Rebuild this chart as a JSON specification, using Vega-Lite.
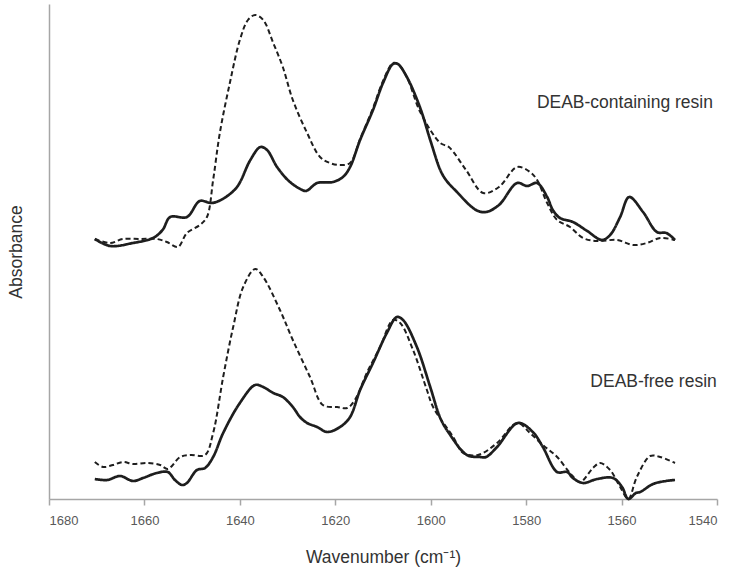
{
  "$schema": "https://vega.github.io/schema/vega-lite/v6.json",
  "width": 668,
  "height": 495,
  "autosize": {"type": "none"},
  "padding": {"left": 49, "top": 4, "right": 29, "bottom": 80},
  "background": "white",
  "config": {"view": {"stroke": null}, "font": "Liberation Sans"},
  "datasets": {
    "spectra": [
      {"sample": "DEAB-containing resin", "state": "Cured", "wavenumber": 1670.4, "absorbance": 0.260},
      {"sample": "DEAB-containing resin", "state": "Cured", "wavenumber": 1667.2, "absorbance": 0.253},
      {"sample": "DEAB-containing resin", "state": "Cured", "wavenumber": 1662.4, "absorbance": 0.256},
      {"sample": "DEAB-containing resin", "state": "Cured", "wavenumber": 1658.2, "absorbance": 0.261},
      {"sample": "DEAB-containing resin", "state": "Cured", "wavenumber": 1656.2, "absorbance": 0.269},
      {"sample": "DEAB-containing resin", "state": "Cured", "wavenumber": 1654.6, "absorbance": 0.282},
      {"sample": "DEAB-containing resin", "state": "Cured", "wavenumber": 1651.1, "absorbance": 0.282},
      {"sample": "DEAB-containing resin", "state": "Cured", "wavenumber": 1648.4, "absorbance": 0.298},
      {"sample": "DEAB-containing resin", "state": "Cured", "wavenumber": 1645.9, "absorbance": 0.296},
      {"sample": "DEAB-containing resin", "state": "Cured", "wavenumber": 1643.6, "absorbance": 0.300},
      {"sample": "DEAB-containing resin", "state": "Cured", "wavenumber": 1640.6, "absorbance": 0.312},
      {"sample": "DEAB-containing resin", "state": "Cured", "wavenumber": 1637.8, "absorbance": 0.339},
      {"sample": "DEAB-containing resin", "state": "Cured", "wavenumber": 1635.7, "absorbance": 0.352},
      {"sample": "DEAB-containing resin", "state": "Cured", "wavenumber": 1634.3, "absorbance": 0.349},
      {"sample": "DEAB-containing resin", "state": "Cured", "wavenumber": 1632.2, "absorbance": 0.332},
      {"sample": "DEAB-containing resin", "state": "Cured", "wavenumber": 1629.5, "absorbance": 0.317},
      {"sample": "DEAB-containing resin", "state": "Cured", "wavenumber": 1626.3, "absorbance": 0.308},
      {"sample": "DEAB-containing resin", "state": "Cured", "wavenumber": 1625.7, "absorbance": 0.309},
      {"sample": "DEAB-containing resin", "state": "Cured", "wavenumber": 1623.8, "absorbance": 0.316},
      {"sample": "DEAB-containing resin", "state": "Cured", "wavenumber": 1620.5, "absorbance": 0.317},
      {"sample": "DEAB-containing resin", "state": "Cured", "wavenumber": 1618.4, "absorbance": 0.322},
      {"sample": "DEAB-containing resin", "state": "Cured", "wavenumber": 1616.9, "absorbance": 0.332},
      {"sample": "DEAB-containing resin", "state": "Cured", "wavenumber": 1614.8, "absorbance": 0.359},
      {"sample": "DEAB-containing resin", "state": "Cured", "wavenumber": 1612.1, "absorbance": 0.389},
      {"sample": "DEAB-containing resin", "state": "Cured", "wavenumber": 1610.0, "absorbance": 0.416},
      {"sample": "DEAB-containing resin", "state": "Cured", "wavenumber": 1607.9, "absorbance": 0.435},
      {"sample": "DEAB-containing resin", "state": "Cured", "wavenumber": 1606.9, "absorbance": 0.435},
      {"sample": "DEAB-containing resin", "state": "Cured", "wavenumber": 1605.0, "absorbance": 0.422},
      {"sample": "DEAB-containing resin", "state": "Cured", "wavenumber": 1602.2, "absorbance": 0.391},
      {"sample": "DEAB-containing resin", "state": "Cured", "wavenumber": 1600.1, "absorbance": 0.359},
      {"sample": "DEAB-containing resin", "state": "Cured", "wavenumber": 1598.0, "absorbance": 0.329},
      {"sample": "DEAB-containing resin", "state": "Cured", "wavenumber": 1596.8, "absorbance": 0.319},
      {"sample": "DEAB-containing resin", "state": "Cured", "wavenumber": 1594.7, "absorbance": 0.308},
      {"sample": "DEAB-containing resin", "state": "Cured", "wavenumber": 1590.5, "absorbance": 0.289},
      {"sample": "DEAB-containing resin", "state": "Cured", "wavenumber": 1588.4, "absorbance": 0.287},
      {"sample": "DEAB-containing resin", "state": "Cured", "wavenumber": 1585.7, "absorbance": 0.294},
      {"sample": "DEAB-containing resin", "state": "Cured", "wavenumber": 1581.9, "absorbance": 0.316},
      {"sample": "DEAB-containing resin", "state": "Cured", "wavenumber": 1579.8, "absorbance": 0.313},
      {"sample": "DEAB-containing resin", "state": "Cured", "wavenumber": 1577.7, "absorbance": 0.316},
      {"sample": "DEAB-containing resin", "state": "Cured", "wavenumber": 1575.6, "absorbance": 0.302},
      {"sample": "DEAB-containing resin", "state": "Cured", "wavenumber": 1574.4, "absorbance": 0.289},
      {"sample": "DEAB-containing resin", "state": "Cured", "wavenumber": 1572.9, "absorbance": 0.281},
      {"sample": "DEAB-containing resin", "state": "Cured", "wavenumber": 1570.2, "absorbance": 0.277},
      {"sample": "DEAB-containing resin", "state": "Cured", "wavenumber": 1567.2, "absorbance": 0.268},
      {"sample": "DEAB-containing resin", "state": "Cured", "wavenumber": 1564.1, "absorbance": 0.259},
      {"sample": "DEAB-containing resin", "state": "Cured", "wavenumber": 1562.4, "absorbance": 0.264},
      {"sample": "DEAB-containing resin", "state": "Cured", "wavenumber": 1560.3, "absorbance": 0.282},
      {"sample": "DEAB-containing resin", "state": "Cured", "wavenumber": 1558.4, "absorbance": 0.302},
      {"sample": "DEAB-containing resin", "state": "Cured", "wavenumber": 1555.5, "absorbance": 0.287},
      {"sample": "DEAB-containing resin", "state": "Cured", "wavenumber": 1552.6, "absorbance": 0.267},
      {"sample": "DEAB-containing resin", "state": "Cured", "wavenumber": 1550.6, "absorbance": 0.266},
      {"sample": "DEAB-containing resin", "state": "Cured", "wavenumber": 1548.8, "absorbance": 0.259},

      {"sample": "DEAB-containing resin", "state": "Uncured", "wavenumber": 1670.4, "absorbance": 0.260},
      {"sample": "DEAB-containing resin", "state": "Uncured", "wavenumber": 1667.2, "absorbance": 0.256},
      {"sample": "DEAB-containing resin", "state": "Uncured", "wavenumber": 1664.5, "absorbance": 0.260},
      {"sample": "DEAB-containing resin", "state": "Uncured", "wavenumber": 1660.9, "absorbance": 0.260},
      {"sample": "DEAB-containing resin", "state": "Uncured", "wavenumber": 1657.4, "absorbance": 0.260},
      {"sample": "DEAB-containing resin", "state": "Uncured", "wavenumber": 1655.3, "absorbance": 0.257},
      {"sample": "DEAB-containing resin", "state": "Uncured", "wavenumber": 1653.0, "absorbance": 0.252},
      {"sample": "DEAB-containing resin", "state": "Uncured", "wavenumber": 1651.1, "absorbance": 0.266},
      {"sample": "DEAB-containing resin", "state": "Uncured", "wavenumber": 1648.4, "absorbance": 0.274},
      {"sample": "DEAB-containing resin", "state": "Uncured", "wavenumber": 1646.9, "absorbance": 0.282},
      {"sample": "DEAB-containing resin", "state": "Uncured", "wavenumber": 1645.6, "absorbance": 0.319},
      {"sample": "DEAB-containing resin", "state": "Uncured", "wavenumber": 1644.2, "absorbance": 0.366},
      {"sample": "DEAB-containing resin", "state": "Uncured", "wavenumber": 1642.1, "absorbance": 0.416},
      {"sample": "DEAB-containing resin", "state": "Uncured", "wavenumber": 1640.0, "absorbance": 0.459},
      {"sample": "DEAB-containing resin", "state": "Uncured", "wavenumber": 1638.3, "absorbance": 0.479},
      {"sample": "DEAB-containing resin", "state": "Uncured", "wavenumber": 1636.8, "absorbance": 0.484},
      {"sample": "DEAB-containing resin", "state": "Uncured", "wavenumber": 1635.1, "absorbance": 0.479},
      {"sample": "DEAB-containing resin", "state": "Uncured", "wavenumber": 1633.0, "absorbance": 0.456},
      {"sample": "DEAB-containing resin", "state": "Uncured", "wavenumber": 1631.0, "absorbance": 0.432},
      {"sample": "DEAB-containing resin", "state": "Uncured", "wavenumber": 1628.9, "absorbance": 0.399},
      {"sample": "DEAB-containing resin", "state": "Uncured", "wavenumber": 1625.9, "absorbance": 0.366},
      {"sample": "DEAB-containing resin", "state": "Uncured", "wavenumber": 1623.2, "absorbance": 0.342},
      {"sample": "DEAB-containing resin", "state": "Uncured", "wavenumber": 1621.1, "absorbance": 0.336},
      {"sample": "DEAB-containing resin", "state": "Uncured", "wavenumber": 1619.0, "absorbance": 0.334},
      {"sample": "DEAB-containing resin", "state": "Uncured", "wavenumber": 1616.9, "absorbance": 0.336},
      {"sample": "DEAB-containing resin", "state": "Uncured", "wavenumber": 1614.8, "absorbance": 0.360},
      {"sample": "DEAB-containing resin", "state": "Uncured", "wavenumber": 1612.1, "absorbance": 0.391},
      {"sample": "DEAB-containing resin", "state": "Uncured", "wavenumber": 1610.0, "absorbance": 0.418},
      {"sample": "DEAB-containing resin", "state": "Uncured", "wavenumber": 1607.9, "absorbance": 0.436},
      {"sample": "DEAB-containing resin", "state": "Uncured", "wavenumber": 1606.9, "absorbance": 0.435},
      {"sample": "DEAB-containing resin", "state": "Uncured", "wavenumber": 1605.0, "absorbance": 0.422},
      {"sample": "DEAB-containing resin", "state": "Uncured", "wavenumber": 1602.2, "absorbance": 0.387},
      {"sample": "DEAB-containing resin", "state": "Uncured", "wavenumber": 1598.0, "absorbance": 0.356},
      {"sample": "DEAB-containing resin", "state": "Uncured", "wavenumber": 1596.2, "absorbance": 0.352},
      {"sample": "DEAB-containing resin", "state": "Uncured", "wavenumber": 1592.6, "absorbance": 0.329},
      {"sample": "DEAB-containing resin", "state": "Uncured", "wavenumber": 1589.0, "absorbance": 0.306},
      {"sample": "DEAB-containing resin", "state": "Uncured", "wavenumber": 1585.7, "absorbance": 0.312},
      {"sample": "DEAB-containing resin", "state": "Uncured", "wavenumber": 1581.9, "absorbance": 0.332},
      {"sample": "DEAB-containing resin", "state": "Uncured", "wavenumber": 1579.2, "absorbance": 0.327},
      {"sample": "DEAB-containing resin", "state": "Uncured", "wavenumber": 1577.7, "absorbance": 0.319},
      {"sample": "DEAB-containing resin", "state": "Uncured", "wavenumber": 1575.6, "absorbance": 0.296},
      {"sample": "DEAB-containing resin", "state": "Uncured", "wavenumber": 1573.5, "absorbance": 0.279},
      {"sample": "DEAB-containing resin", "state": "Uncured", "wavenumber": 1570.8, "absorbance": 0.272},
      {"sample": "DEAB-containing resin", "state": "Uncured", "wavenumber": 1568.1, "absorbance": 0.261},
      {"sample": "DEAB-containing resin", "state": "Uncured", "wavenumber": 1565.1, "absorbance": 0.258},
      {"sample": "DEAB-containing resin", "state": "Uncured", "wavenumber": 1560.9, "absorbance": 0.259},
      {"sample": "DEAB-containing resin", "state": "Uncured", "wavenumber": 1557.6, "absorbance": 0.254},
      {"sample": "DEAB-containing resin", "state": "Uncured", "wavenumber": 1554.7, "absorbance": 0.256},
      {"sample": "DEAB-containing resin", "state": "Uncured", "wavenumber": 1551.9, "absorbance": 0.261},
      {"sample": "DEAB-containing resin", "state": "Uncured", "wavenumber": 1548.8, "absorbance": 0.259},

      {"sample": "DEAB-free resin", "state": "Cured", "wavenumber": 1670.4, "absorbance": 0.020},
      {"sample": "DEAB-free resin", "state": "Cured", "wavenumber": 1667.8, "absorbance": 0.019},
      {"sample": "DEAB-free resin", "state": "Cured", "wavenumber": 1665.1, "absorbance": 0.023},
      {"sample": "DEAB-free resin", "state": "Cured", "wavenumber": 1662.4, "absorbance": 0.018},
      {"sample": "DEAB-free resin", "state": "Cured", "wavenumber": 1660.3, "absorbance": 0.021},
      {"sample": "DEAB-free resin", "state": "Cured", "wavenumber": 1657.4, "absorbance": 0.026},
      {"sample": "DEAB-free resin", "state": "Cured", "wavenumber": 1655.1, "absorbance": 0.027},
      {"sample": "DEAB-free resin", "state": "Cured", "wavenumber": 1653.6, "absorbance": 0.019},
      {"sample": "DEAB-free resin", "state": "Cured", "wavenumber": 1652.1, "absorbance": 0.014},
      {"sample": "DEAB-free resin", "state": "Cured", "wavenumber": 1651.1, "absorbance": 0.016},
      {"sample": "DEAB-free resin", "state": "Cured", "wavenumber": 1649.0, "absorbance": 0.029},
      {"sample": "DEAB-free resin", "state": "Cured", "wavenumber": 1647.3, "absorbance": 0.031},
      {"sample": "DEAB-free resin", "state": "Cured", "wavenumber": 1645.6, "absorbance": 0.042},
      {"sample": "DEAB-free resin", "state": "Cured", "wavenumber": 1643.5, "absorbance": 0.066},
      {"sample": "DEAB-free resin", "state": "Cured", "wavenumber": 1640.0, "absorbance": 0.096},
      {"sample": "DEAB-free resin", "state": "Cured", "wavenumber": 1636.8, "absorbance": 0.114},
      {"sample": "DEAB-free resin", "state": "Cured", "wavenumber": 1635.1, "absorbance": 0.112},
      {"sample": "DEAB-free resin", "state": "Cured", "wavenumber": 1633.0, "absorbance": 0.106},
      {"sample": "DEAB-free resin", "state": "Cured", "wavenumber": 1631.0, "absorbance": 0.102},
      {"sample": "DEAB-free resin", "state": "Cured", "wavenumber": 1628.9, "absorbance": 0.092},
      {"sample": "DEAB-free resin", "state": "Cured", "wavenumber": 1627.4, "absorbance": 0.082},
      {"sample": "DEAB-free resin", "state": "Cured", "wavenumber": 1625.9, "absorbance": 0.076},
      {"sample": "DEAB-free resin", "state": "Cured", "wavenumber": 1623.8, "absorbance": 0.072},
      {"sample": "DEAB-free resin", "state": "Cured", "wavenumber": 1621.7, "absorbance": 0.067},
      {"sample": "DEAB-free resin", "state": "Cured", "wavenumber": 1619.0, "absorbance": 0.072},
      {"sample": "DEAB-free resin", "state": "Cured", "wavenumber": 1616.9, "absorbance": 0.082},
      {"sample": "DEAB-free resin", "state": "Cured", "wavenumber": 1614.8, "absorbance": 0.109},
      {"sample": "DEAB-free resin", "state": "Cured", "wavenumber": 1612.1, "absorbance": 0.136},
      {"sample": "DEAB-free resin", "state": "Cured", "wavenumber": 1609.2, "absorbance": 0.166},
      {"sample": "DEAB-free resin", "state": "Cured", "wavenumber": 1607.1, "absorbance": 0.182},
      {"sample": "DEAB-free resin", "state": "Cured", "wavenumber": 1605.8, "absorbance": 0.179},
      {"sample": "DEAB-free resin", "state": "Cured", "wavenumber": 1602.9, "absorbance": 0.152},
      {"sample": "DEAB-free resin", "state": "Cured", "wavenumber": 1600.1, "absorbance": 0.112},
      {"sample": "DEAB-free resin", "state": "Cured", "wavenumber": 1598.0, "absorbance": 0.081},
      {"sample": "DEAB-free resin", "state": "Cured", "wavenumber": 1596.2, "absorbance": 0.066},
      {"sample": "DEAB-free resin", "state": "Cured", "wavenumber": 1592.4, "absorbance": 0.044},
      {"sample": "DEAB-free resin", "state": "Cured", "wavenumber": 1589.7, "absorbance": 0.042},
      {"sample": "DEAB-free resin", "state": "Cured", "wavenumber": 1588.4, "absorbance": 0.042},
      {"sample": "DEAB-free resin", "state": "Cured", "wavenumber": 1586.1, "absorbance": 0.052},
      {"sample": "DEAB-free resin", "state": "Cured", "wavenumber": 1581.7, "absorbance": 0.076},
      {"sample": "DEAB-free resin", "state": "Cured", "wavenumber": 1578.6, "absorbance": 0.067},
      {"sample": "DEAB-free resin", "state": "Cured", "wavenumber": 1576.5, "absorbance": 0.052},
      {"sample": "DEAB-free resin", "state": "Cured", "wavenumber": 1573.5, "absorbance": 0.027},
      {"sample": "DEAB-free resin", "state": "Cured", "wavenumber": 1571.4, "absorbance": 0.027},
      {"sample": "DEAB-free resin", "state": "Cured", "wavenumber": 1570.2, "absorbance": 0.021},
      {"sample": "DEAB-free resin", "state": "Cured", "wavenumber": 1568.1, "absorbance": 0.016},
      {"sample": "DEAB-free resin", "state": "Cured", "wavenumber": 1565.1, "absorbance": 0.020},
      {"sample": "DEAB-free resin", "state": "Cured", "wavenumber": 1561.8, "absorbance": 0.021},
      {"sample": "DEAB-free resin", "state": "Cured", "wavenumber": 1559.9, "absorbance": 0.012},
      {"sample": "DEAB-free resin", "state": "Cured", "wavenumber": 1558.6, "absorbance": 0.000},
      {"sample": "DEAB-free resin", "state": "Cured", "wavenumber": 1557.0, "absorbance": 0.006},
      {"sample": "DEAB-free resin", "state": "Cured", "wavenumber": 1556.1, "absorbance": 0.007},
      {"sample": "DEAB-free resin", "state": "Cured", "wavenumber": 1553.4, "absorbance": 0.015},
      {"sample": "DEAB-free resin", "state": "Cured", "wavenumber": 1550.7, "absorbance": 0.018},
      {"sample": "DEAB-free resin", "state": "Cured", "wavenumber": 1548.8, "absorbance": 0.019},

      {"sample": "DEAB-free resin", "state": "Uncured", "wavenumber": 1670.4, "absorbance": 0.037},
      {"sample": "DEAB-free resin", "state": "Uncured", "wavenumber": 1668.7, "absorbance": 0.032},
      {"sample": "DEAB-free resin", "state": "Uncured", "wavenumber": 1666.6, "absorbance": 0.034},
      {"sample": "DEAB-free resin", "state": "Uncured", "wavenumber": 1664.5, "absorbance": 0.037},
      {"sample": "DEAB-free resin", "state": "Uncured", "wavenumber": 1662.4, "absorbance": 0.035},
      {"sample": "DEAB-free resin", "state": "Uncured", "wavenumber": 1659.5, "absorbance": 0.036},
      {"sample": "DEAB-free resin", "state": "Uncured", "wavenumber": 1656.7, "absorbance": 0.034},
      {"sample": "DEAB-free resin", "state": "Uncured", "wavenumber": 1655.1, "absorbance": 0.030},
      {"sample": "DEAB-free resin", "state": "Uncured", "wavenumber": 1652.5, "absorbance": 0.042},
      {"sample": "DEAB-free resin", "state": "Uncured", "wavenumber": 1650.4, "absorbance": 0.044},
      {"sample": "DEAB-free resin", "state": "Uncured", "wavenumber": 1647.3, "absorbance": 0.044},
      {"sample": "DEAB-free resin", "state": "Uncured", "wavenumber": 1645.6, "absorbance": 0.066},
      {"sample": "DEAB-free resin", "state": "Uncured", "wavenumber": 1643.5, "absorbance": 0.122},
      {"sample": "DEAB-free resin", "state": "Uncured", "wavenumber": 1641.4, "absorbance": 0.172},
      {"sample": "DEAB-free resin", "state": "Uncured", "wavenumber": 1639.3, "absorbance": 0.212},
      {"sample": "DEAB-free resin", "state": "Uncured", "wavenumber": 1636.8, "absorbance": 0.230},
      {"sample": "DEAB-free resin", "state": "Uncured", "wavenumber": 1635.1, "absorbance": 0.222},
      {"sample": "DEAB-free resin", "state": "Uncured", "wavenumber": 1631.6, "absorbance": 0.189},
      {"sample": "DEAB-free resin", "state": "Uncured", "wavenumber": 1628.9, "absorbance": 0.159},
      {"sample": "DEAB-free resin", "state": "Uncured", "wavenumber": 1625.3, "absorbance": 0.122},
      {"sample": "DEAB-free resin", "state": "Uncured", "wavenumber": 1622.6, "absorbance": 0.094},
      {"sample": "DEAB-free resin", "state": "Uncured", "wavenumber": 1619.6, "absorbance": 0.092},
      {"sample": "DEAB-free resin", "state": "Uncured", "wavenumber": 1617.5, "absorbance": 0.091},
      {"sample": "DEAB-free resin", "state": "Uncured", "wavenumber": 1615.9, "absorbance": 0.099},
      {"sample": "DEAB-free resin", "state": "Uncured", "wavenumber": 1613.3, "absorbance": 0.127},
      {"sample": "DEAB-free resin", "state": "Uncured", "wavenumber": 1610.6, "absorbance": 0.152},
      {"sample": "DEAB-free resin", "state": "Uncured", "wavenumber": 1607.9, "absorbance": 0.179},
      {"sample": "DEAB-free resin", "state": "Uncured", "wavenumber": 1606.4, "absorbance": 0.176},
      {"sample": "DEAB-free resin", "state": "Uncured", "wavenumber": 1603.7, "absorbance": 0.149},
      {"sample": "DEAB-free resin", "state": "Uncured", "wavenumber": 1600.8, "absorbance": 0.109},
      {"sample": "DEAB-free resin", "state": "Uncured", "wavenumber": 1599.5, "absorbance": 0.092},
      {"sample": "DEAB-free resin", "state": "Uncured", "wavenumber": 1595.3, "absorbance": 0.062},
      {"sample": "DEAB-free resin", "state": "Uncured", "wavenumber": 1593.2, "absorbance": 0.046},
      {"sample": "DEAB-free resin", "state": "Uncured", "wavenumber": 1590.1, "absorbance": 0.044},
      {"sample": "DEAB-free resin", "state": "Uncured", "wavenumber": 1586.1, "absorbance": 0.056},
      {"sample": "DEAB-free resin", "state": "Uncured", "wavenumber": 1581.9, "absorbance": 0.076},
      {"sample": "DEAB-free resin", "state": "Uncured", "wavenumber": 1579.2, "absorbance": 0.066},
      {"sample": "DEAB-free resin", "state": "Uncured", "wavenumber": 1576.5, "absorbance": 0.054},
      {"sample": "DEAB-free resin", "state": "Uncured", "wavenumber": 1573.5, "absorbance": 0.042},
      {"sample": "DEAB-free resin", "state": "Uncured", "wavenumber": 1570.8, "absorbance": 0.026},
      {"sample": "DEAB-free resin", "state": "Uncured", "wavenumber": 1568.7, "absorbance": 0.017},
      {"sample": "DEAB-free resin", "state": "Uncured", "wavenumber": 1566.0, "absorbance": 0.031},
      {"sample": "DEAB-free resin", "state": "Uncured", "wavenumber": 1564.5, "absorbance": 0.036},
      {"sample": "DEAB-free resin", "state": "Uncured", "wavenumber": 1562.4, "absorbance": 0.029},
      {"sample": "DEAB-free resin", "state": "Uncured", "wavenumber": 1560.3, "absorbance": 0.012},
      {"sample": "DEAB-free resin", "state": "Uncured", "wavenumber": 1558.6, "absorbance": 0.000},
      {"sample": "DEAB-free resin", "state": "Uncured", "wavenumber": 1556.8, "absorbance": 0.022},
      {"sample": "DEAB-free resin", "state": "Uncured", "wavenumber": 1554.0, "absorbance": 0.043},
      {"sample": "DEAB-free resin", "state": "Uncured", "wavenumber": 1551.9, "absorbance": 0.042},
      {"sample": "DEAB-free resin", "state": "Uncured", "wavenumber": 1548.8, "absorbance": 0.036}
    ],
    "labels": [
      {"label": "DEAB-containing resin", "wavenumber": 1559.3, "absorbance": 0.396},
      {"label": "DEAB-free resin", "wavenumber": 1553.3, "absorbance": 0.117}
    ]
  },
  "layer": [
    {
      "data": {"name": "spectra"},
      "mark": {"type": "line", "interpolate": "catmull-rom", "color": "#1e1e1e", "clip": false},
      "encoding": {
        "x": {
          "field": "wavenumber",
          "type": "quantitative",
          "scale": {"domain": [1540, 1680], "reverse": true, "nice": false, "zero": false},
          "axis": {
            "title": "Wavenumber (cm⁻¹)",
            "values": [1540, 1560, 1580, 1600, 1620, 1640, 1660, 1680],
            "format": "d",
            "grid": false,
            "domainColor": "#a6a6a6",
            "domainWidth": 1.5,
            "tickColor": "#a6a6a6",
            "tickWidth": 1.5,
            "tickSize": 6,
            "labelFont": "Liberation Sans",
            "labelFontSize": 13,
            "labelColor": "#595959",
            "labelPadding": 9,
            "titleFont": "Liberation Sans",
            "titleFontSize": 17.5,
            "titleFontWeight": "normal",
            "titleColor": "#333333",
            "titlePadding": 21
          }
        },
        "y": {
          "field": "absorbance",
          "type": "quantitative",
          "scale": {"domain": [0, 0.495], "nice": false, "zero": false},
          "axis": {
            "title": "Absorbance",
            "ticks": false,
            "labels": false,
            "grid": false,
            "domainColor": "#a6a6a6",
            "domainWidth": 1.5,
            "titleFont": "Liberation Sans",
            "titleFontSize": 17.5,
            "titleFontWeight": "normal",
            "titleColor": "#333333",
            "titlePadding": 24
          }
        },
        "detail": {"field": "sample", "type": "nominal"},
        "strokeDash": {
          "field": "state",
          "type": "nominal",
          "scale": {"domain": ["Cured", "Uncured"], "range": [[1, 0], [5, 3]]},
          "legend": null
        },
        "strokeWidth": {
          "field": "state",
          "type": "nominal",
          "scale": {"domain": ["Cured", "Uncured"], "range": [2.7, 2.0]},
          "legend": null
        }
      }
    },
    {
      "data": {"name": "labels"},
      "mark": {"type": "text", "font": "Liberation Sans", "fontSize": 17.5, "color": "#333333", "align": "center", "baseline": "middle"},
      "encoding": {
        "x": {"field": "wavenumber", "type": "quantitative"},
        "y": {"field": "absorbance", "type": "quantitative"},
        "text": {"field": "label", "type": "nominal"}
      }
    }
  ]
}
